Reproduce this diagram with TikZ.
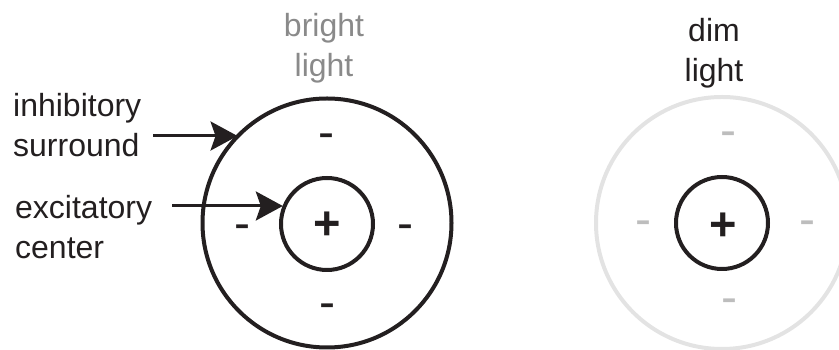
\documentclass[tikz,border=0pt]{standalone}
\usepackage{fontspec}
\setmainfont{Liberation Sans}
\usetikzlibrary{arrows.meta}
\definecolor{ink}{HTML}{231F20}
\definecolor{labelgray}{HTML}{8A8A8A}
\definecolor{ringgray}{HTML}{E3E3E3}
\definecolor{signgray}{HTML}{BDBDBD}
\begin{document}
\begin{tikzpicture}[x=1pt,y=1pt,
  lbl/.style={font=\fontsize{32}{40}\selectfont, inner sep=0pt, text=ink},
  ring/.style={circle, draw=ink, line width=4pt, inner sep=0pt, minimum size=#1},
  sign/.style={font=\fontsize{48}{48}\selectfont, inner sep=0pt, anchor=base, text=ink},
  plussign/.style={sign, font=\fontsize{47}{47}\selectfont\bfseries},
  arr/.style={draw=ink, line width=3pt, -{Stealth[length=27pt,width=29pt,inset=5pt]}}]
\useasboundingbox (0,0) rectangle (839,350);

% bright light receptive field
\node[ring=249] (outerA) at (327,127) {};
\node[ring=92] (innerA) at (327,126) {};
\node[plussign] (plusA) at (327,110.5) {+};
\node[sign] (mA1) at (326,201) {-};
\node[sign] (mA2) at (327,31) {-};
\node[sign] (mA3) at (242,110) {-};
\node[sign] (mA4) at (405,110) {-};

% dim light receptive field
\node[ring=252, draw=ringgray] (outerB) at (722,127) {};
\node[ring=92] (innerB) at (722,127) {};
\node[plussign] (plusB) at (723,109.5) {+};
\node[sign, text=signgray] (mB1) at (728,203) {-};
\node[sign, text=signgray] (mB2) at (729,36) {-};
\node[sign, text=signgray] (mB3) at (643,114) {-};
\node[sign, text=signgray] (mB4) at (807,114) {-};

% titles
\node[lbl, text=labelgray, align=center, anchor=north] (tA) at (324,337) {bright\\light};
\node[lbl, align=center, anchor=north] (tB) at (714,332) {dim\\light};

% side labels
\node[lbl, align=left, anchor=north west] (inh) at (13,257) {inhibitory\\surround};
\node[lbl, align=left, anchor=north west] (exc) at (15,155) {excitatory\\center};

% arrows
\coordinate (s1) at (153,214);
\coordinate (s2) at (172,144);
\draw[arr] (s1) -- (s1 -| outerA.135.7);
\draw[arr] (s2) -- (s2 -| innerA.157);
\end{tikzpicture}
\end{document}
